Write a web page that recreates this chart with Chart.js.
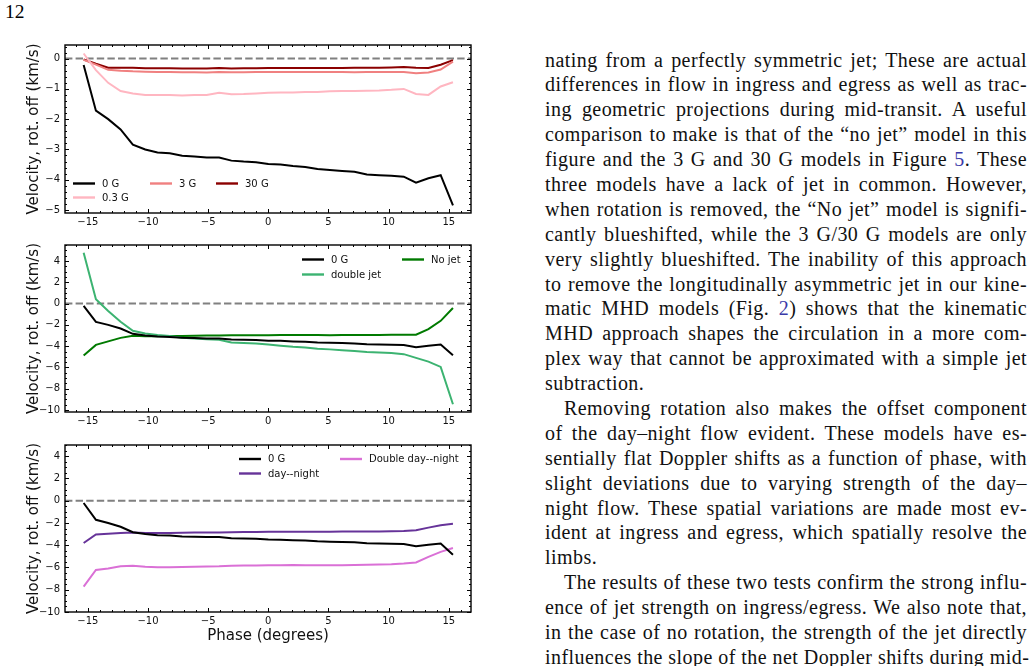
<!DOCTYPE html>
<html>
<head>
<meta charset="utf-8">
<script src="https://cdn.jsdelivr.net/npm/chart.js@4.4.1/dist/chart.umd.min.js"></script>
<style>
  body { margin: 0; background: #fff; width: 1034px; height: 666px; overflow: hidden; position: relative; }
  canvas { position: absolute; left: 0; }
  .pnum { position: absolute; left: 5px; top: 2px; font: 19.5px "Liberation Serif", serif; line-height: 20px; }
  .txt { position: absolute; left: 545px; top: 47.5px; width: 482px; font: 20px "Liberation Serif", serif; letter-spacing: 0.45px; color: #111; }
  .txt div { height: 24.9px; line-height: 24.9px; white-space: nowrap; text-align: justify; text-align-last: justify; }
  .txt div.end { text-align-last: left; }
  .txt div.ind { padding-left: 19px; }
  .txt a { color: #3a3aa8; text-decoration: none; }
</style>
</head>
<body>
<div class="pnum">12</div>
<canvas id="c1" width="480" height="193" style="top:40px"></canvas>
<canvas id="c2" width="480" height="192" style="top:240px"></canvas>
<canvas id="c3" width="480" height="207" style="top:440px"></canvas>

<div class="txt">
  <div>nating from a perfectly symmetric jet; These are actual</div>
  <div>differences in flow in ingress and egress as well as trac-</div>
  <div>ing geometric projections during mid-transit. A useful</div>
  <div>comparison to make is that of the “no jet” model in this</div>
  <div>figure and the 3 G and 30 G models in Figure <a>5</a>. These</div>
  <div>three models have a lack of jet in common. However,</div>
  <div>when rotation is removed, the “No jet” model is signifi-</div>
  <div>cantly blueshifted, while the 3 G/30 G models are only</div>
  <div>very slightly blueshifted. The inability of this approach</div>
  <div>to remove the longitudinally asymmetric jet in our kine-</div>
  <div>matic MHD models (Fig. <a>2</a>) shows that the kinematic</div>
  <div>MHD approach shapes the circulation in a more com-</div>
  <div>plex way that cannot be approximated with a simple jet</div>
  <div class="end">subtraction.</div>
  <div class="ind">Removing rotation also makes the offset component</div>
  <div>of the day–night flow evident. These models have es-</div>
  <div>sentially flat Doppler shifts as a function of phase, with</div>
  <div>slight deviations due to varying strength of the day–</div>
  <div>night flow. These spatial variations are made most ev-</div>
  <div>ident at ingress and egress, which spatially resolve the</div>
  <div class="end">limbs.</div>
  <div class="ind">The results of these two tests confirm the strong influ-</div>
  <div>ence of jet strength on ingress/egress. We also note that,</div>
  <div>in the case of no rotation, the strength of the jet directly</div>
  <div>influences the slope of the net Doppler shifts during mid-</div>
</div>

<script>
// phase (degrees)
const phase = [-15.35, -14.33, -13.31, -12.28, -11.26, -10.23, -9.21, -8.19, -7.16, -6.14, -5.12, -4.09, -3.07, -2.05, -1.02, 0,
  1.02, 2.05, 3.07, 4.09, 5.12, 6.14, 7.16, 8.19, 9.21, 10.23, 11.26, 12.28, 13.31, 14.33, 15.35]

// velocity, rotation off (km/s)
const vel0G = [-0.21, -1.72, -2.0, -2.34, -2.84, -3.0, -3.1, -3.13, -3.21, -3.23, -3.27, -3.27, -3.37, -3.40, -3.42, -3.48,
  -3.50, -3.55, -3.58, -3.65, -3.68, -3.71, -3.74, -3.83, -3.85, -3.87, -3.9, -4.1, -3.95, -3.85, -4.85]
const vel03G = [0.17, -0.38, -0.8, -1.07, -1.15, -1.2, -1.2, -1.2, -1.22, -1.2, -1.2, -1.13, -1.18, -1.17, -1.15, -1.13,
  -1.12, -1.12, -1.1, -1.1, -1.08, -1.07, -1.07, -1.06, -1.05, -1.03, -1.0, -1.17, -1.2, -0.92, -0.78]
const vel3G = [-0.04, -0.2, -0.37, -0.4, -0.42, -0.43, -0.44, -0.44, -0.45, -0.45, -0.46, -0.44, -0.45, -0.45, -0.44, -0.44,
  -0.44, -0.44, -0.44, -0.44, -0.44, -0.44, -0.45, -0.44, -0.44, -0.44, -0.44, -0.48, -0.46, -0.36, -0.1]
const vel30G = [-0.03, -0.17, -0.3, -0.3, -0.3, -0.32, -0.32, -0.32, -0.33, -0.33, -0.33, -0.31, -0.33, -0.32, -0.32, -0.31,
  -0.31, -0.31, -0.31, -0.31, -0.31, -0.31, -0.3, -0.3, -0.3, -0.29, -0.28, -0.3, -0.31, -0.2, -0.05]
const velDoubleJet = [4.77, 0.4, -0.7, -1.7, -2.55, -2.8, -2.95, -3.05, -3.2, -3.28, -3.35, -3.4, -3.65, -3.7, -3.75, -3.85,
  -3.95, -4.05, -4.12, -4.25, -4.3, -4.38, -4.45, -4.55, -4.6, -4.65, -4.75, -5.1, -5.45, -5.95, -9.45]
const velNoJet = [-4.87, -3.88, -3.55, -3.22, -3.03, -3.06, -3.06, -3.05, -3.04, -3.02, -3.0, -3.0, -2.98, -2.97, -2.97, -2.97,
  -2.95, -2.95, -2.96, -2.96, -2.97, -2.96, -2.95, -2.95, -2.94, -2.93, -2.92, -2.92, -2.4, -1.62, -0.42]
const velDayNight = [-3.8, -3.03, -2.97, -2.9, -2.87, -2.9, -2.9, -2.9, -2.88, -2.87, -2.86, -2.85, -2.83, -2.82, -2.82, -2.8,
  -2.8, -2.8, -2.8, -2.79, -2.79, -2.78, -2.78, -2.77, -2.76, -2.75, -2.72, -2.65, -2.42, -2.2, -2.08]
const velDoubleDayNight = [-7.72, -6.23, -6.1, -5.9, -5.85, -5.93, -5.98, -5.98, -5.95, -5.93, -5.92, -5.9, -5.85, -5.83, -5.82, -5.8,
  -5.8, -5.78, -5.8, -5.8, -5.8, -5.8, -5.78, -5.76, -5.74, -5.72, -5.65, -5.55, -5.05, -4.6, -4.25]

const xTicks = [-15, -10, -5, 0, 5, 10, 15]
const yTicksTop = [-5, -4, -3, -2, -1, 0]
const yTicksJet = [-10, -8, -6, -4, -2, 0, 2, 4]

const FONT = '"DejaVu Sans", sans-serif'

function pts(ys) {
  return phase.map((x, i) => ({ x: x, y: ys[i] }))
}

function line(label, ys, color) {
  return { label: label, data: pts(ys), borderColor: color, backgroundColor: color,
    borderWidth: 2, pointRadius: 0, tension: 0, fill: false }
}

const minus = v => String(v).replace('-', '\u2212')

// matplotlib-like frame: inward ticks on 4 sides, dashed zero line, legend inside axes
const mplAxes = {
  id: 'mplAxes',
  beforeDatasetsDraw(chart, args, opts) {
    const { ctx, chartArea: a } = chart
    const y0 = chart.scales.y.getPixelForValue(0)
    ctx.save()
    ctx.strokeStyle = '#808080'
    ctx.lineWidth = 2
    ctx.setLineDash([7.4, 3.2])
    ctx.beginPath()
    ctx.moveTo(a.left, y0)
    ctx.lineTo(a.right, y0)
    ctx.stroke()
    ctx.restore()
  },
  afterDraw(chart, args, opts) {
    const { ctx, chartArea: a } = chart
    const xs = chart.scales.x, ys = chart.scales.y
    ctx.save()
    ctx.strokeStyle = '#000'
    ctx.lineWidth = 1
    ctx.beginPath()
    // x ticks
    for (let v = Math.ceil(xs.min); v <= xs.max; v += opts.xMinor) {
      const p = Math.round(xs.getPixelForValue(v)) + 0.5
      const len = xTicks.includes(v) ? 4 : 2
      ctx.moveTo(p, a.bottom); ctx.lineTo(p, a.bottom - len)
      ctx.moveTo(p, a.top); ctx.lineTo(p, a.top + len)
    }
    // y ticks
    const start = Math.ceil(ys.min / opts.yMinor) * opts.yMinor
    for (let v = start; v <= ys.max + 1e-9; v += opts.yMinor) {
      const r = Math.round(v * 1000) / 1000
      const p = Math.round(ys.getPixelForValue(r)) + 0.5
      const major = Math.abs(r / opts.yMajor - Math.round(r / opts.yMajor)) < 1e-6
      const len = major ? 4 : 2
      ctx.moveTo(a.left, p); ctx.lineTo(a.left + len, p)
      ctx.moveTo(a.right, p); ctx.lineTo(a.right - len, p)
    }
    ctx.stroke()
    ctx.lineWidth = 1.4
    ctx.strokeRect(a.left, a.top, a.right - a.left, a.bottom - a.top)

    // legend, filled column by column
    const cv = chart.canvas.getBoundingClientRect()
    ctx.font = '10px ' + FONT
    ctx.textBaseline = 'middle'
    ctx.fillStyle = '#111'
    let k = 0
    opts.colCounts.forEach((n, c) => {
      for (let r = 0; r < n; r++) {
        const ds = chart.data.datasets[k++]
        const x = opts.cols[c] - cv.left, y = opts.rows[r] - cv.top
        ctx.strokeStyle = ds.borderColor
        ctx.lineWidth = 2.4
        ctx.beginPath()
        ctx.moveTo(x, y); ctx.lineTo(x + 22, y)
        ctx.stroke()
        ctx.fillText(ds.label, x + 29, y + 0.5)
      }
    })
    ctx.restore()
  }
}

function makeChart(id, datasets, yMin, yMax, yTicks, frame, xTitle) {
  new Chart(document.getElementById(id), {
    type: 'line',
    data: { datasets: datasets },
    plugins: [mplAxes],
    options: {
      responsive: false,
      animation: false,
      layout: { padding: { top: 5, right: 9, left: 0, bottom: 0 } },
      plugins: { legend: { display: false }, tooltip: { enabled: false }, mplAxes: frame },
      scales: {
        x: {
          type: 'linear', min: -16.9, max: 16.85,
          grid: { display: false, drawTicks: false }, border: { display: false },
          afterBuildTicks: s => { s.ticks = xTicks.map(v => ({ value: v })) },
          afterFit: s => { s.height = xTitle ? 35 : 20; s.paddingLeft = 0; s.paddingRight = 0 },
          ticks: { color: '#111', padding: 3, font: { family: FONT, size: 10 }, callback: minus, maxRotation: 0 },
          title: { display: !!xTitle, text: xTitle, color: '#111', padding: { top: 0, bottom: 2 }, font: { family: FONT, size: 15 } }
        },
        y: {
          min: yMin, max: yMax,
          grid: { display: false, drawTicks: false }, border: { display: false },
          afterBuildTicks: s => { s.ticks = yTicks.map(v => ({ value: v })) },
          afterFit: s => { s.width = 65; s.paddingTop = 0; s.paddingBottom = 0 },
          ticks: { color: '#111', padding: 5, font: { family: FONT, size: 10 }, callback: minus },
          title: { display: true, text: 'Velocity, rot. off (km/s)', color: '#111', padding: { top: 25, bottom: 0 }, font: { family: FONT, size: 15 } }
        }
      }
    }
  })
}

makeChart('c1', [
  line('0 G', vel0G, '#000000'),
  line('0.3 G', vel03G, '#ffb6c1'),
  line('3 G', vel3G, '#f08080'),
  line('30 G', vel30G, '#8b0000')
], -5.1, 0.45, yTicksTop,
{ xMinor: 1, yMinor: 0.2, yMajor: 1, colCounts: [2, 1, 1], cols: [73, 150, 216], rows: [183.5, 197.5] })

makeChart('c2', [
  line('0 G', vel0G, '#000000'),
  line('double jet', velDoubleJet, '#3cb371'),
  line('No jet', velNoJet, '#007a00')
], -10.18, 5.5, yTicksJet,
{ xMinor: 1, yMinor: 0.5, yMajor: 2, colCounts: [2, 1], cols: [302, 402], rows: [259.5, 274.5] })

makeChart('c3', [
  line('0 G', vel0G, '#000000'),
  line('day--night', velDayNight, '#663399'),
  line('Double day--night', velDoubleDayNight, '#da70d6')
], -10, 5, yTicksJet,
{ xMinor: 1, yMinor: 0.5, yMajor: 2, colCounts: [2, 1], cols: [239, 340], rows: [459, 473.5] }, 'Phase (degrees)')
</script>
</body>
</html>
